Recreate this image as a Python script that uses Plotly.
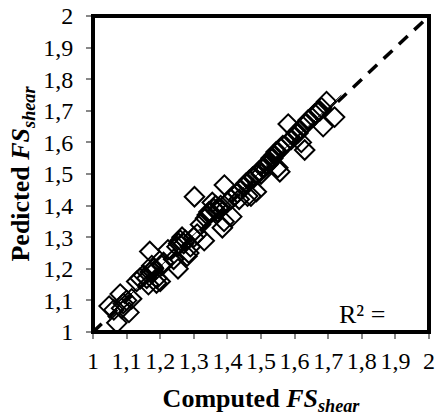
import numpy as np
import plotly.graph_objects as go

computed = [1.048, 1.071, 1.081, 1.107, 1.062, 1.09, 1.10, 1.115, 1.085,
            1.13, 1.14, 1.15, 1.16, 1.17, 1.169, 1.18, 1.175, 1.165, 1.189, 1.20, 1.19, 1.18, 1.205, 1.21,
            1.223, 1.24, 1.253, 1.25, 1.255, 1.26, 1.265, 1.27, 1.275, 1.28, 1.285, 1.29, 1.30, 1.31,
            1.302, 1.331, 1.32, 1.335, 1.34, 1.345, 1.35, 1.355, 1.36, 1.365, 1.37, 1.375, 1.38, 1.39,
            1.385, 1.391, 1.40, 1.41, 1.413, 1.42, 1.43, 1.435, 1.44,
            1.45, 1.455, 1.46, 1.465, 1.47, 1.475, 1.48, 1.486, 1.49, 1.495, 1.50, 1.505, 1.51, 1.515,
            1.52, 1.525, 1.53, 1.535, 1.54, 1.545, 1.55, 1.556, 1.55, 1.56, 1.565,
            1.581, 1.59, 1.60, 1.605, 1.61, 1.615, 1.62, 1.63, 1.625, 1.635, 1.64, 1.66, 1.67, 1.675,
            1.685, 1.695, 1.719, 1.68]
predicted = [1.082, 1.029, 1.12, 1.062, 1.07, 1.09, 1.10, 1.105, 1.075,
             1.16, 1.17, 1.18, 1.17, 1.19, 1.255, 1.20, 1.21, 1.15, 1.155, 1.16, 1.17, 1.19, 1.21, 1.22,
             1.26, 1.23, 1.20, 1.27, 1.28, 1.29, 1.30, 1.28, 1.29, 1.24, 1.25, 1.27, 1.30, 1.31,
             1.428, 1.289, 1.34, 1.36, 1.37, 1.38, 1.38, 1.41, 1.39, 1.40, 1.38, 1.39, 1.40, 1.35,
             1.33, 1.465, 1.41, 1.42, 1.365, 1.43, 1.44, 1.42, 1.45,
             1.46, 1.47, 1.43, 1.48, 1.43, 1.49, 1.49, 1.444, 1.50, 1.51, 1.50, 1.52, 1.52, 1.53,
             1.53, 1.54, 1.55, 1.55, 1.56, 1.57, 1.57, 1.507, 1.52, 1.58, 1.59,
             1.658, 1.61, 1.62, 1.63, 1.63, 1.64, 1.60, 1.576, 1.65, 1.66, 1.67, 1.69, 1.70, 1.70,
             1.65, 1.729, 1.68, 1.71]
line_ends = [1.0, 2.0]
tick_vals = [1.0, 1.1, 1.2, 1.3, 1.4, 1.5, 1.6, 1.7, 1.8, 1.9, 2.0]
tick_text = ["1", "1,1", "1,2", "1,3", "1,4", "1,5", "1,6", "1,7", "1,8", "1,9", "2"]

cx = np.array(computed)
py = np.array(predicted)
slope, icpt = np.polyfit(cx, py, 1)
fit_x = np.array([cx.min(), cx.max() + 0.02])
fit_y = slope * fit_x + icpt

fig = go.Figure()
fig.add_trace(go.Scatter(x=line_ends, y=line_ends, mode="lines",
                         line=dict(color="black", width=3.5, dash="12px,9px"),
                         showlegend=False, hoverinfo="skip"))
fig.add_trace(go.Scatter(x=computed, y=predicted, mode="markers",
                         marker=dict(symbol="diamond-open", size=15,
                                     color="black", line=dict(width=2, color="black")),
                         showlegend=False))
fig.add_trace(go.Scatter(x=fit_x, y=fit_y, mode="lines",
                         line=dict(color="black", width=1),
                         showlegend=False, hoverinfo="skip"))

font_family = "Liberation Serif"
axis_common = dict(range=[1, 2], tickvals=tick_vals, ticktext=tick_text,
                   showgrid=False, zeroline=False, automargin=False,
                   showline=True, linecolor="#777777", linewidth=2,
                   ticks="outside", tickcolor="#888888", ticklen=5, tickwidth=2,
                   tickfont=dict(size=24, family=font_family))
fig.update_layout(
    width=436, height=416,
    margin=dict(l=93, r=7, t=16, b=84, autoexpand=False),
    paper_bgcolor="white", plot_bgcolor="white",
    font=dict(family=font_family, size=16, color="black"),
    xaxis=dict(axis_common, ticklabelstandoff=1,
               title=dict(text="<b>Computed <i>FS<sub>shear</sub></i></b>",
                          font=dict(size=26, family=font_family), standoff=18)),
    yaxis=dict(axis_common, ticklabelstandoff=8,
               title=dict(text="<b>Pedicted <i>FS<sub>shear</sub></i></b>",
                          font=dict(size=26, family=font_family), standoff=6)),
    shapes=[dict(type="rect", xref="paper", yref="paper", x0=0, y0=0, x1=1, y1=1,
                 line=dict(color="black", width=4), layer="above")],
    annotations=[dict(x=1.80, y=1.054, xref="x", yref="y", text="R² =",
                      showarrow=False, font=dict(size=26, family=font_family))],
)
fig.write_html("out.html", config={"displayModeBar": False},
               post_script="document.body.style.margin='0';document.body.style.overflow='hidden';")
